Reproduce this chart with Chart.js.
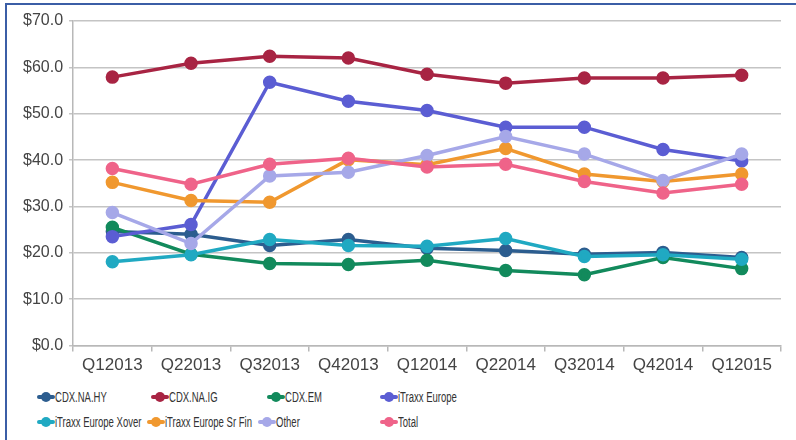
<!DOCTYPE html>
<html>
<head>
<meta charset="utf-8">
<script src="https://cdn.jsdelivr.net/npm/chart.js@4.4.1/dist/chart.umd.min.js"></script>
<style>
  body { margin: 0; background: #fff; }
  #frame {
    position: absolute; left: 5px; top: 3px; width: 791px; height: 437px;
    border-left: 2px solid #3b5ea6; border-top: 2px solid #3b5ea6;
    box-sizing: border-box;
  }
  #chart-box { position: absolute; left: 0; top: 0; width: 796px; height: 380px; }
  .legend-item {
    position: absolute; display: flex; align-items: center;
    font-family: "Liberation Sans", Arial, sans-serif;
    font-size: 14px; color: #333; white-space: nowrap;
  }
  .legend-item .txt { display: inline-block; transform: scaleX(0.68); transform-origin: left center; }
  .legend-icon { position: relative; width: 18px; height: 10px; margin-right: 0; flex: none; }
  .legend-icon .ln { position: absolute; left: 0; top: 3px; width: 18px; height: 4px; border-radius: 2px; }
  .legend-icon .dot { position: absolute; left: 4px; top: 0; width: 10px; height: 10px; border-radius: 50%; }
</style>
</head>
<body>
<div id="frame"></div>
<div id="chart-box"><canvas id="cds-chart"></canvas></div>
<div id="legend"></div>
<script>
// quarters on the x axis
const quarters = ["Q12013", "Q22013", "Q32013", "Q42013", "Q12014", "Q22014", "Q32014", "Q42014", "Q12015"];

// series values ($bn)
const cdxNaHy = [24.6, 24.0, 21.6, 22.9, 21.0, 20.5, 19.7, 20.1, 19.0];
const cdxNaIg = [57.9, 60.9, 62.4, 62.0, 58.5, 56.6, 57.7, 57.7, 58.3];
const cdxEm = [25.5, 19.7, 17.7, 17.5, 18.4, 16.2, 15.3, 19.0, 16.6];
const itraxxEurope = [23.5, 26.1, 56.8, 52.7, 50.7, 47.1, 47.1, 42.3, 39.8];
const itraxxXover = [18.1, 19.6, 22.9, 21.6, 21.4, 23.1, 19.2, 19.6, 18.6];
const itraxxSrFin = [35.2, 31.3, 30.9, 40.1, 39.0, 42.5, 37.0, 35.4, 37.0];
const other = [28.7, 22.0, 36.6, 37.4, 41.0, 45.1, 41.3, 35.6, 41.3];
const total = [38.2, 34.8, 39.1, 40.4, 38.5, 39.1, 35.4, 32.9, 34.8];

const seriesNames = ["CDX.NA.HY", "CDX.NA.IG", "CDX.EM", "iTraxx Europe",
  "iTraxx Europe Xover", "iTraxx Europe Sr Fin", "Other", "Total"];
const seriesData = [cdxNaHy, cdxNaIg, cdxEm, itraxxEurope, itraxxXover, itraxxSrFin, other, total];
const seriesColors = ["#2c5d8f", "#a82443", "#128a5c", "#5b5dd3", "#20a9c2", "#f0982f", "#a6a8e8", "#ef6389"];

const datasets = seriesNames.map(function (name, i) {
  return {
    label: name,
    data: seriesData[i],
    borderColor: seriesColors[i],
    backgroundColor: seriesColors[i],
    pointBackgroundColor: seriesColors[i],
    pointBorderColor: seriesColors[i],
    borderWidth: 3.5,
    pointRadius: 5,
    pointHoverRadius: 5,
    tension: 0,
    order: seriesNames.length - i, // later series sit on top
  };
});

const yFont = { family: "'Liberation Sans', Arial, sans-serif", size: 16 };
const xFont = { family: "'Liberation Sans', Arial, sans-serif", size: 17 };

const ctx = document.getElementById("cds-chart").getContext("2d");
const cdsChart = new Chart(ctx, {
  type: "line",
  data: { labels: quarters, datasets: datasets },
  options: {
    responsive: true,
    maintainAspectRatio: false,
    animation: false,
    layout: { padding: { left: 17, right: 15, top: 21, bottom: 0 } },
    plugins: {
      legend: { display: false },
      tooltip: { enabled: false },
    },
    scales: {
      x: {
        offset: true,
        grid: {
          offset: true,
          drawOnChartArea: false,
          color: "#b8b8b8",
          lineWidth: 1.5,
          tickLength: 6,
        },
        border: { color: "#b8b8b8", width: 1.5 },
        ticks: { color: "#444", font: xFont, padding: 4, maxRotation: 0 },
      },
      y: {
        min: 0,
        max: 70,
        ticks: {
          stepSize: 10,
          color: "#444",
          font: yFont,
          padding: 6,
          callback: function (v) { return "$" + v.toFixed(1); },
        },
        grid: { color: "#c4c4c4", lineWidth: 1.5, tickLength: 4 },
        border: { color: "#b8b8b8", width: 1.5 },
      },
    },
  },
});

// HTML legend laid out like the original (4 columns, 2 rows)
const legendPos = [
  [37, 397], [151, 397], [267, 397], [380, 397],
  [37, 422], [147, 422], [258, 422], [380, 422],
];
const legendEl = document.getElementById("legend");
seriesNames.forEach(function (name, i) {
  const item = document.createElement("div");
  item.className = "legend-item";
  item.style.left = legendPos[i][0] + "px";
  item.style.top = (legendPos[i][1] - 8) + "px";
  item.innerHTML =
    '<span class="legend-icon"><span class="ln" style="background:' + seriesColors[i] +
    '"></span><span class="dot" style="background:' + seriesColors[i] + '"></span></span>' +
    '<span class="txt">' + name + "</span>";
  legendEl.appendChild(item);
});
</script>
</body>
</html>
